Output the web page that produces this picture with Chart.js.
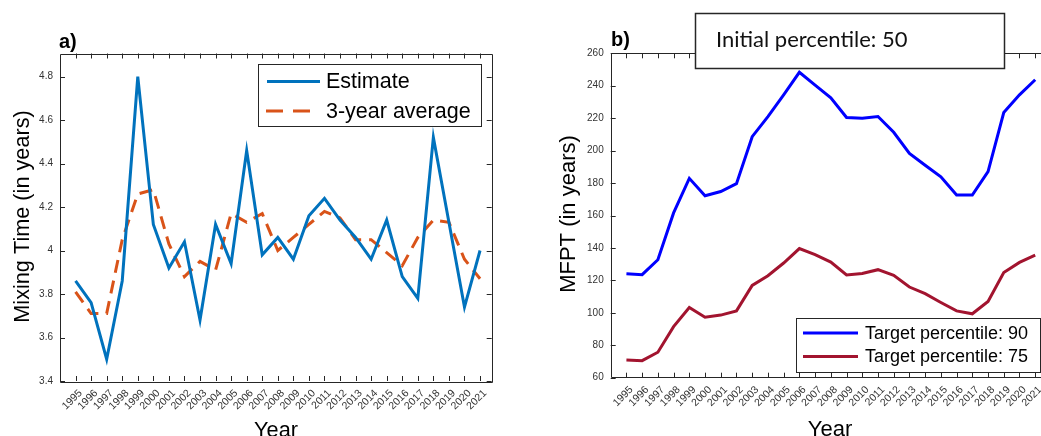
<!DOCTYPE html>
<html>
<head>
<meta charset="utf-8">
<script src="https://cdn.jsdelivr.net/npm/chart.js@4.4.1/dist/chart.umd.min.js"></script>
<style>
html, body { margin: 0; padding: 0; background: #fff; overflow: hidden; width: 1041px; height: 436px; }
#chartA { position: absolute; left: 0; top: 0; }
#chartB { position: absolute; left: 540px; top: 0; }
</style>
</head>
<body>
<canvas id="chartA" width="520" height="436"></canvas>
<canvas id="chartB" width="515" height="436"></canvas>
<script>
var years = [1995, 1996, 1997, 1998, 1999, 2000, 2001, 2002, 2003, 2004, 2005, 2006, 2007, 2008,
	2009, 2010, 2011, 2012, 2013, 2014, 2015, 2016, 2017, 2018, 2019, 2020, 2021];

// panel a
var estimate = [3.86, 3.76, 3.50, 3.86, 4.80, 4.12, 3.92, 4.04, 3.68, 4.12, 3.94, 4.46, 3.98, 4.06,
	3.96, 4.16, 4.24, 4.14, 4.06, 3.96, 4.14, 3.88, 3.78, 4.52, 4.13, 3.74, 4.00];
var avg3 = [3.81, 3.71, 3.71, 4.05, 4.26, 4.28, 4.03, 3.88, 3.95, 3.91, 4.17, 4.13, 4.17, 4.00,
	4.06, 4.12, 4.18, 4.15, 4.05, 4.05, 3.99, 3.93, 4.06, 4.14, 4.13, 3.96, 3.87];
var mixTicks = [3.4, 3.6, 3.8, 4.0, 4.2, 4.4, 4.6, 4.8];

// panel b
var target90 = [124.1, 123.5, 132.7, 161.6, 182.9, 172.2, 174.8, 179.6, 208.6, 221.0, 234.4, 248.3, 240.4, 232.6,
	220.4, 220.0, 221.0, 211.3, 198.3, 191.0, 183.9, 172.6, 172.6, 187.0, 223.5, 234.4, 243.7];
var target75 = [70.9, 70.5, 75.7, 91.5, 103.3, 97.3, 98.6, 101.2, 116.9, 122.9, 130.7, 139.6, 135.9, 131.3,
	123.3, 124.3, 126.6, 123.1, 115.9, 111.8, 106.4, 101.2, 99.4, 107.0, 124.9, 131.1, 135.5];
var mfptTicks = [60, 80, 100, 120, 140, 160, 180, 200, 220, 240, 260];

var FONT = '"Liberation Sans", Arial, sans-serif';
var AXIS = '#262626';

function pts(vals) {
	return years.map(function(y, i) { return {x: y, y: vals[i]}; });
}

// MATLAB-like box with inward ticks on all sides
function drawFrame(chart, yTicks) {
	var ctx = chart.ctx, a = chart.chartArea;
	var xs = chart.scales.x, ys = chart.scales.y;
	ctx.save();
	ctx.strokeStyle = AXIS;
	ctx.lineWidth = 1;
	ctx.beginPath();
	ctx.rect(Math.round(a.left) + 0.5, Math.round(a.top) + 0.5,
		Math.round(a.right - a.left), Math.round(a.bottom - a.top));
	years.forEach(function(v) {
		var px = Math.round(xs.getPixelForValue(v)) + 0.5;
		ctx.moveTo(px, a.bottom); ctx.lineTo(px, a.bottom - 5);
		ctx.moveTo(px, a.top); ctx.lineTo(px, a.top + 5);
	});
	yTicks.forEach(function(v) {
		var py = Math.round(ys.getPixelForValue(v)) + 0.5;
		ctx.moveTo(a.left, py); ctx.lineTo(a.left + 5, py);
		ctx.moveTo(a.right, py); ctx.lineTo(a.right - 5, py);
	});
	ctx.stroke();
	ctx.restore();
}

function drawLegend(ctx, box, items, fontSize) {
	ctx.save();
	ctx.fillStyle = '#fff';
	ctx.fillRect(box.x, box.y, box.w, box.h);
	ctx.strokeStyle = AXIS;
	ctx.lineWidth = 1;
	ctx.strokeRect(box.x + 0.5, box.y + 0.5, box.w, box.h);
	items.forEach(function(it) {
		ctx.strokeStyle = it.color;
		ctx.lineWidth = 3;
		ctx.setLineDash(it.dash || []);
		ctx.beginPath();
		ctx.moveTo(it.x0, it.y); ctx.lineTo(it.x1, it.y);
		ctx.stroke();
		ctx.setLineDash([]);
		ctx.fillStyle = '#000';
		ctx.font = fontSize + 'px ' + FONT;
		ctx.textBaseline = 'middle';
		ctx.textAlign = 'left';
		ctx.fillText(it.label, it.tx, it.y + 1);
	});
	ctx.restore();
}

function drawText(ctx, txt, x, y, font, rot, align) {
	ctx.save();
	ctx.translate(x, y);
	if (rot) ctx.rotate(rot);
	ctx.font = font;
	ctx.fillStyle = '#000';
	ctx.textAlign = align || 'center';
	ctx.textBaseline = 'alphabetic';
	ctx.fillText(txt, 0, 0);
	ctx.restore();
}

function baseOptions(yMin, yMax, yTicks, yFmt, yWidth, xHeight, padding) {
	return {
		responsive: false,
		animation: false,
		layout: {padding: padding},
		plugins: {legend: {display: false}, tooltip: {enabled: false}},
		scales: {
			x: {
				type: 'linear',
				min: 1994,
				max: 2021.75,
				grid: {display: false, drawTicks: false},
				border: {display: false},
				afterBuildTicks: function(s) { s.ticks = years.map(function(v) { return {value: v}; }); },
				afterFit: function(s) { s.height = xHeight; },
				ticks: {
					autoSkip: false,
					minRotation: 45,
					maxRotation: 45,
					padding: 6,
					labelOffset: 5,
					color: '#333',
					font: {family: FONT, size: 10.5},
					callback: function(v) { return String(v); }
				}
			},
			y: {
				min: yMin,
				max: yMax,
				grid: {display: false, drawTicks: false},
				border: {display: false},
				afterBuildTicks: function(s) { s.ticks = yTicks.map(function(v) { return {value: v}; }); },
				afterFit: function(s) { s.width = yWidth; },
				ticks: {
					padding: 7,
					color: '#333',
					font: {family: FONT, size: 10},
					callback: yFmt
				}
			}
		}
	};
}

// ---- panel a ----
var optsA = baseOptions(3.4, 4.906, mixTicks, function(v) { return String(+v.toFixed(1)); },
	60, 55, {top: 53.5, right: 28.3, left: 0, bottom: 0});

new Chart(document.getElementById('chartA').getContext('2d'), {
	type: 'line',
	data: {
		datasets: [{
			label: 'Estimate',
			data: pts(estimate),
			borderColor: '#0072BD',
			borderWidth: 3,
			pointRadius: 0,
			tension: 0
		}, {
			label: '3-year average',
			data: pts(avg3),
			borderColor: '#D95319',
			borderWidth: 3,
			borderDash: [13, 8],
			pointRadius: 0,
			tension: 0
		}]
	},
	options: optsA,
	plugins: [{
		id: 'decorA',
		afterDatasetsDraw: function(chart) { drawFrame(chart, mixTicks); },
		afterDraw: function(chart) {
			var ctx = chart.ctx;
			drawLegend(ctx, {x: 258, y: 64, w: 223, h: 62}, [
				{label: 'Estimate', color: '#0072BD', x0: 267, x1: 320, tx: 326, y: 81.5},
				{label: '3-year average', color: '#D95319', dash: [17, 10], x0: 266, x1: 320, tx: 326, y: 111}
			], 21.5);
			drawText(ctx, 'a)', 59, 48, 'bold 20px ' + FONT, 0, 'left');
			drawText(ctx, 'Mixing Time (in years)', 28.5, 216.5, '21.7px ' + FONT, -Math.PI / 2);
			drawText(ctx, 'Year', 276, 437, '21.7px ' + FONT);
		}
	}]
});

// ---- panel b ----
var optsB = baseOptions(60, 260, mfptTicks, function(v) { return String(v); },
	70.7, 58.3, {top: 53.3, right: 8, left: 0, bottom: 0});

new Chart(document.getElementById('chartB').getContext('2d'), {
	type: 'line',
	data: {
		datasets: [{
			label: 'Target percentile: 90',
			data: pts(target90),
			borderColor: '#0000FF',
			borderWidth: 3,
			pointRadius: 0,
			tension: 0
		}, {
			label: 'Target percentile: 75',
			data: pts(target75),
			borderColor: '#A2142F',
			borderWidth: 3,
			pointRadius: 0,
			tension: 0
		}]
	},
	options: optsB,
	plugins: [{
		id: 'decorB',
		afterDatasetsDraw: function(chart) { drawFrame(chart, mfptTicks); },
		afterDraw: function(chart) {
			var ctx = chart.ctx;
			drawLegend(ctx, {x: 256, y: 318, w: 244, h: 54}, [
				{label: 'Target percentile: 90', color: '#0000FF', x0: 263, x1: 318, tx: 325, y: 333},
				{label: 'Target percentile: 75', color: '#A2142F', x0: 263, x1: 318, tx: 325, y: 356.5}
			], 18);
			drawText(ctx, 'b)', 71, 46, 'bold 20px ' + FONT, 0, 'left');
			drawText(ctx, 'MFPT (in years)', 35, 214, '22px ' + FONT, -Math.PI / 2);
			drawText(ctx, 'Year', 290, 436, '22px ' + FONT);

			// title box
			ctx.save();
			ctx.fillStyle = '#fff';
			ctx.fillRect(155, 13, 309, 55);
			ctx.strokeStyle = AXIS;
			ctx.lineWidth = 1.5;
			ctx.strokeRect(155.5, 13.5, 309, 55);
			var label = 'Initial percentile: 50';
			var size = 24;
			ctx.font = size + 'px Lato, "Open Sans", sans-serif';
			while (ctx.measureText(label).width > 193 && size > 10) {
				size -= 0.5;
				ctx.font = size + 'px Lato, "Open Sans", sans-serif';
			}
			ctx.fillStyle = '#111';
			ctx.textAlign = 'left';
			ctx.textBaseline = 'alphabetic';
			ctx.fillText(label, 176, 46.5);
			ctx.restore();
		}
	}]
});
</script>
</body>
</html>
